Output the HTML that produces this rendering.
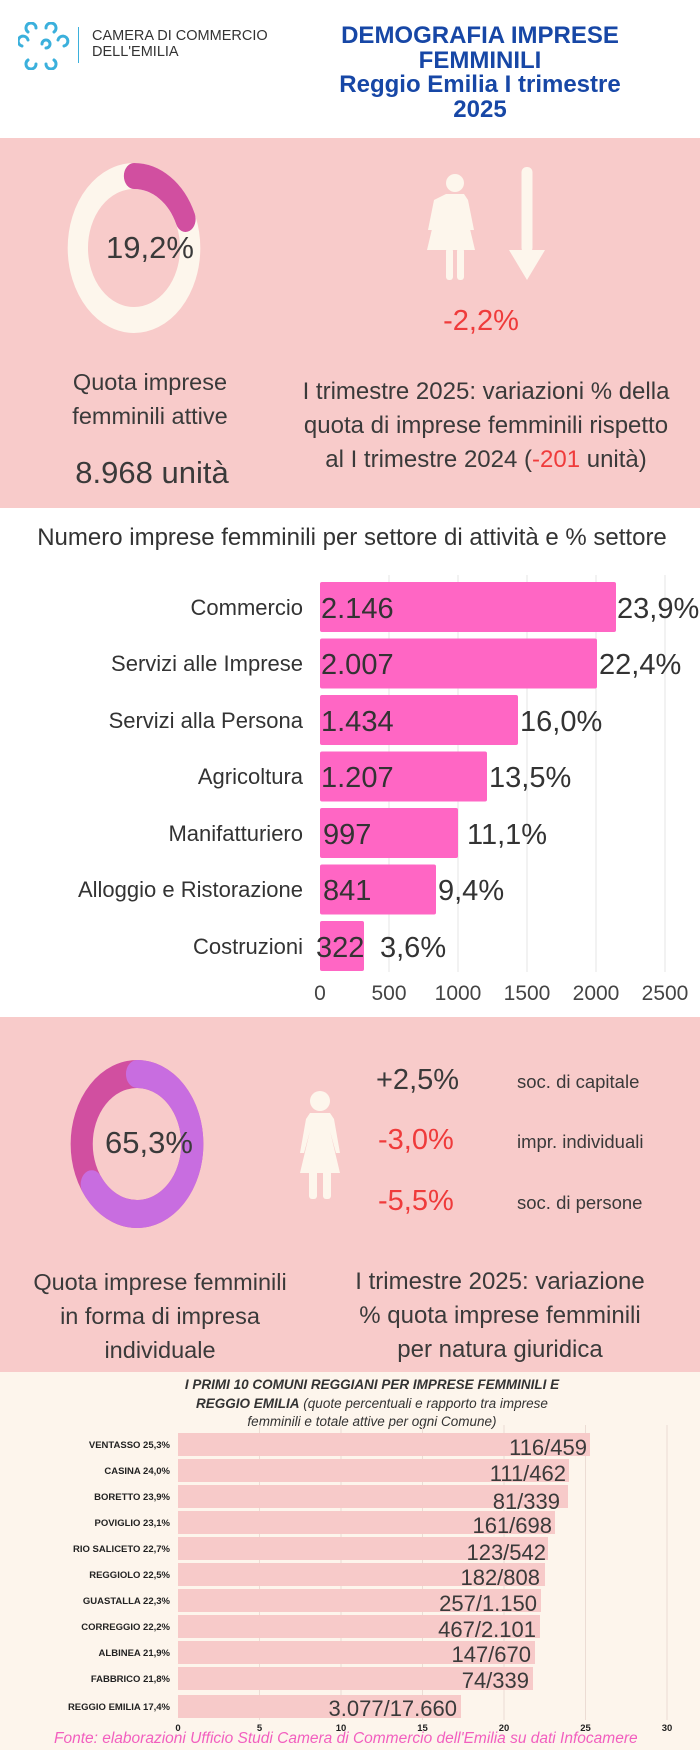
<!DOCTYPE html>
<html><head><meta charset="utf-8"><style>
*{margin:0;padding:0}
body{width:700px;height:1750px;position:relative;background:#fff;font-family:"Liberation Sans",sans-serif;overflow:hidden;color:#3a3a3a}
.a{position:absolute;white-space:nowrap}
.c{transform:translateX(-50%);text-align:center}
</style></head><body>
<!-- header -->
<svg class="a" style="left:18px;top:22px" width="52" height="48" viewBox="0 0 52 48">
<g fill="none" stroke="#3bb0dc" stroke-width="3" stroke-linecap="round">
<path d="M10 10 a5 5 0 1 1 8 -4"/><path d="M28 6 a5 5 0 1 1 8 4"/>
<path d="M4 24 a5 5 0 1 1 6 -6"/><path d="M24 22 a4 4 0 1 1 4 4"/><path d="M40 18 a5 5 0 1 1 6 6"/>
<path d="M10 38 a5 5 0 1 0 8 4"/><path d="M28 42 a5 5 0 1 0 8 -4"/>
</g></svg>
<div class="a" style="left:78px;top:27px;width:1px;height:36px;background:#3bb0dc"></div>
<div class="a" style="left:92px;top:28px;font-size:14.5px;line-height:16px;color:#333">CAMERA DI COMMERCIO<br>DELL'EMILIA</div>
<div class="a c" style="left:480px;top:24px;font-size:24px;font-weight:bold;color:#1747a6;line-height:24.5px">DEMOGRAFIA IMPRESE<br>FEMMINILI<br>Reggio Emilia I trimestre<br>2025</div>

<!-- pink 1 -->
<div class="a" style="left:0;top:138px;width:700px;height:370px;background:#f8cbca"></div>
<svg class="a" style="left:0;top:138px" width="700" height="370">
<g transform="translate(134,110) scale(0.78,1)">
<circle cx="0" cy="0" r="72" fill="none" stroke="#fdf6ec" stroke-width="26"/>
<path d="M0 -72 A72 72 0 0 1 66 -29" fill="none" stroke="#d14fa0" stroke-width="26" stroke-linecap="round"/>
</g>
<g fill="#fdf6ec">
<circle cx="455" cy="45" r="9"/>
<path d="M446 56 h18 l4 6 l6 30 h-4 l-5 -22 l10 42 h-48 l10 -42 l-5 22 h-4 l6 -30 z"/>
<rect x="446" y="110" width="7" height="32" rx="3"/><rect x="457" y="110" width="7" height="32" rx="3"/>
<rect x="521.5" y="29" width="11" height="86" rx="5"/>
<path d="M509 112 h36 l-18 30 z"/>
</g>
</svg>
<div class="a c" style="left:150px;top:230px;font-size:31px">19,2%</div>
<div class="a c" style="left:481px;top:305px;font-size:29px;color:#ef3b3b">-2,2%</div>
<div class="a c" style="left:150px;top:365px;font-size:23.5px;line-height:34px">Quota imprese<br>femminili attive</div>
<div class="a c" style="left:152px;top:455px;font-size:31px">8.968 unità</div>
<div class="a c" style="left:486px;top:375px;font-size:24px;line-height:34px">I trimestre 2025: variazioni % della<br>quota di imprese femminili rispetto<br>al I trimestre 2024 (<span style="color:#ef3b3b">-201</span> unità)</div>

<!-- bar chart 1 -->
<div class="a c" style="left:352px;top:524px;font-size:24px;color:#333">Numero imprese femminili per settore di attività e % settore</div>
<svg class="a" style="left:0;top:570px" width="700" height="440" font-family="Liberation Sans,sans-serif">
<g stroke="#e6e6e6" stroke-width="1">
<line x1="389" y1="5" x2="389" y2="402"/><line x1="458" y1="5" x2="458" y2="402"/><line x1="527" y1="5" x2="527" y2="402"/><line x1="596" y1="5" x2="596" y2="402"/><line x1="665" y1="5" x2="665" y2="402"/>
</g>
<g fill="#ff66c4">
<rect x="320" y="12" width="296" height="50" rx="2"/>
<rect x="320" y="68.5" width="277" height="50" rx="2"/>
<rect x="320" y="125" width="198" height="50" rx="2"/>
<rect x="320" y="181.5" width="167" height="50" rx="2"/>
<rect x="320" y="238" width="138" height="50" rx="2"/>
<rect x="320" y="294.5" width="116" height="50" rx="2"/>
<rect x="320" y="351" width="44" height="50" rx="2"/>
</g>
<g font-size="22" fill="#333" text-anchor="end" transform="translate(303,0)">
<text y="45">Commercio</text><text y="101">Servizi alle Imprese</text><text y="158">Servizi alla Persona</text><text y="214">Agricoltura</text><text y="271">Manifatturiero</text><text y="327">Alloggio e Ristorazione</text><text y="384">Costruzioni</text>
</g>
<g font-size="29" fill="#333">
<text x="321" y="48">2.146</text><text x="321" y="104">2.007</text><text x="321" y="161">1.434</text><text x="321" y="217">1.207</text><text x="323" y="274">997</text><text x="323" y="330">841</text><text x="316" y="387">322</text>
<text x="617" y="48">23,9%</text><text x="599" y="104">22,4%</text><text x="520" y="161">16,0%</text><text x="489" y="217">13,5%</text><text x="467" y="274">11,1%</text><text x="438" y="330">9,4%</text><text x="380" y="387">3,6%</text>
</g>
<g font-size="21" fill="#444" text-anchor="middle">
<text x="320" y="430">0</text><text x="389" y="430">500</text><text x="458" y="430">1000</text><text x="527" y="430">1500</text><text x="596" y="430">2000</text><text x="665" y="430">2500</text>
</g>
</svg>

<!-- pink 2 -->
<div class="a" style="left:0;top:1017px;width:700px;height:355px;background:#f8cbca"></div>
<svg class="a" style="left:0;top:1017px" width="700" height="355">
<g transform="translate(137,127) scale(0.79,1)">
<circle cx="0" cy="0" r="70" fill="none" stroke="#d14fa0" stroke-width="28"/>
<path d="M0 -70 A70 70 0 1 1 -57.3 40.2" fill="none" stroke="#c86de0" stroke-width="28" stroke-linecap="round"/>
</g>
<g fill="#fdf6ec">
<circle cx="320" cy="84" r="10"/>
<path d="M310 96 h20 l4 6 l6 34 h-4 l-6 -22 l10 42 h-40 l10 -42 l-6 22 h-4 l6 -34 z"/>
<rect x="309" y="150" width="8" height="32" rx="3"/><rect x="323" y="150" width="8" height="32" rx="3"/>
</g>
</svg>
<div class="a c" style="left:149px;top:1125px;font-size:31px">65,3%</div>
<div class="a" style="left:376px;top:1064px;font-size:29px">+2,5%</div>
<div class="a" style="left:378px;top:1124px;font-size:29px;color:#ef3b3b">-3,0%</div>
<div class="a" style="left:378px;top:1185px;font-size:29px;color:#ef3b3b">-5,5%</div>
<div class="a" style="left:517px;top:1071px;font-size:18.5px">soc. di capitale</div>
<div class="a" style="left:517px;top:1131px;font-size:18.5px">impr. individuali</div>
<div class="a" style="left:517px;top:1192px;font-size:18.5px">soc. di persone</div>
<div class="a c" style="left:160px;top:1265px;font-size:23.5px;line-height:34px">Quota imprese femminili<br>in forma di impresa<br>individuale</div>
<div class="a c" style="left:500px;top:1265px;font-size:24px;line-height:34px">I trimestre 2025: variazione<br>% quota imprese femminili<br>per natura giuridica</div>

<!-- cream -->
<div class="a" style="left:0;top:1372px;width:700px;height:378px;background:#fdf5ec"></div>
<div class="a c" style="left:372px;top:1376px;font-size:13.5px;line-height:18.5px;font-style:italic;color:#333"><b>I PRIMI 10 COMUNI REGGIANI PER IMPRESE FEMMINILI E<br>REGGIO EMILIA</b> (quote percentuali e rapporto tra imprese<br>femminili e totale attive per ogni Comune)</div>
<svg class="a" style="left:0;top:1425px" width="700" height="325" font-family="Liberation Sans,sans-serif">
<g stroke="#ecdcd4"><line x1="259.5" y1="0" x2="259.5" y2="295"/><line x1="341" y1="0" x2="341" y2="295"/><line x1="422.5" y1="0" x2="422.5" y2="295"/><line x1="504" y1="0" x2="504" y2="295"/><line x1="585.5" y1="0" x2="585.5" y2="295"/><line x1="667" y1="0" x2="667" y2="295"/></g>
<g fill="#f7cac9">
<rect x="178" y="8" width="412" height="23"/>
<rect x="178" y="34" width="391" height="23"/>
<rect x="178" y="60" width="390" height="23"/>
<rect x="178" y="86" width="377" height="23"/>
<rect x="178" y="112" width="370" height="23"/>
<rect x="178" y="138" width="367" height="23"/>
<rect x="178" y="164" width="363" height="23"/>
<rect x="178" y="190" width="362" height="23"/>
<rect x="178" y="216" width="357" height="23"/>
<rect x="178" y="242" width="355" height="23"/>
<rect x="178" y="270" width="283" height="23"/>
</g>
<g font-size="9.5" font-weight="bold" fill="#222" text-anchor="end">
<text x="170" y="23">VENTASSO 25,3%</text><text x="170" y="49">CASINA 24,0%</text><text x="170" y="75">BORETTO 23,9%</text><text x="170" y="101">POVIGLIO 23,1%</text><text x="170" y="127">RIO SALICETO 22,7%</text><text x="170" y="153">REGGIOLO 22,5%</text><text x="170" y="179">GUASTALLA 22,3%</text><text x="170" y="205">CORREGGIO 22,2%</text><text x="170" y="231">ALBINEA 21,9%</text><text x="170" y="257">FABBRICO 21,8%</text><text x="170" y="285">REGGIO EMILIA 17,4%</text>
</g>
<g font-size="22" fill="#3a3a3a" text-anchor="end">
<text x="587" y="30">116/459</text><text x="566" y="56">111/462</text><text x="560" y="84">81/339</text><text x="552" y="108">161/698</text><text x="546" y="135">123/542</text><text x="540" y="160">182/808</text><text x="537" y="186">257/1.150</text><text x="536" y="212">467/2.101</text><text x="531" y="237">147/670</text><text x="529" y="263">74/339</text><text x="457" y="291">3.077/17.660</text>
</g>
<g font-size="9.5" font-weight="bold" fill="#222" text-anchor="middle">
<text x="178" y="306">0</text><text x="259.5" y="306">5</text><text x="341" y="306">10</text><text x="422.5" y="306">15</text><text x="504" y="306">20</text><text x="585.5" y="306">25</text><text x="667" y="306">30</text>
</g>
</svg>
<div class="a" style="left:54px;top:1730px;font-size:15.5px;font-style:italic;color:#f25fbf">Fonte: elaborazioni Ufficio Studi Camera di Commercio  dell'Emilia su dati Infocamere</div>
</body></html>
